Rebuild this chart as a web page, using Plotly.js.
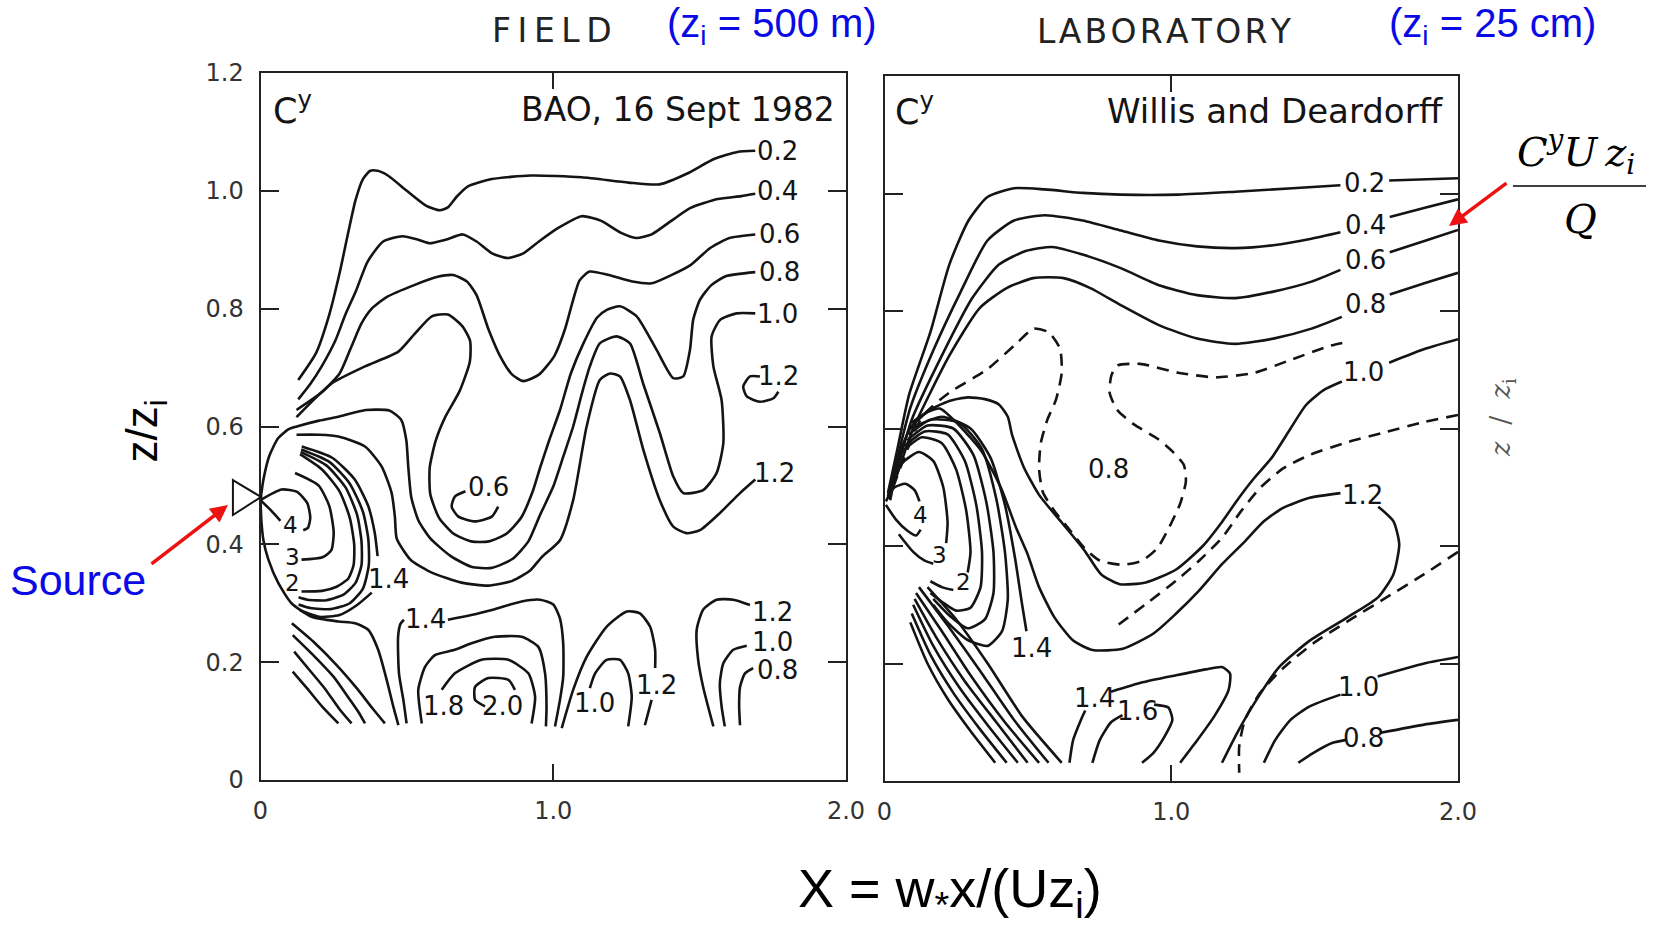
<!DOCTYPE html>
<html><head><meta charset="utf-8">
<script src="https://cdn.plot.ly/plotly-3.0.1.min.js"></script>
<style>html,body{margin:0;padding:0;background:#fff}#chart{width:1659px;height:931px}</style>
</head><body><div id="chart"></div>
<script>
// ---------- FIELD panel (BAO, 16 Sept 1982): contour polylines [X, z/zi] ----------
const fieldC02 = [[0.129,0.679],[0.19,0.725],[0.235,0.79],[0.27,0.86],[0.3,0.93],[0.325,0.985],[0.35,1.02],[0.375,1.034],[0.4,1.034],[0.435,1.026],[0.5,1.0],[0.565,0.975],[0.612,0.967],[0.64,0.972],[0.67,0.99],[0.71,1.008],[0.79,1.02],[0.924,1.026],[1.097,1.023],[1.257,1.014],[1.363,1.011],[1.456,1.029],[1.549,1.054],[1.629,1.066],[1.69,1.068]];
const fieldC04 = [[0.129,0.646],[0.17,0.672],[0.209,0.702],[0.255,0.745],[0.29,0.79],[0.326,0.83],[0.366,0.88],[0.419,0.914],[0.485,0.923],[0.539,0.917],[0.578,0.911],[0.632,0.917],[0.691,0.926],[0.738,0.914],[0.791,0.894],[0.844,0.886],[0.898,0.894],[0.951,0.914],[1.017,0.937],[1.097,0.957],[1.164,0.949],[1.23,0.929],[1.283,0.92],[1.336,0.926],[1.403,0.949],[1.469,0.971],[1.562,0.986],[1.642,0.991],[1.69,0.995]];
const fieldC06 = [[0.123,0.628],[0.209,0.658],[0.27,0.69],[0.31,0.735],[0.345,0.775],[0.38,0.8],[0.432,0.82],[0.525,0.84],[0.605,0.854],[0.658,0.857],[0.705,0.846],[0.738,0.823],[0.778,0.766],[0.818,0.72],[0.858,0.689],[0.898,0.677],[0.951,0.688],[1.004,0.72],[1.04,0.765],[1.068,0.815],[1.09,0.848],[1.124,0.863],[1.19,0.857],[1.27,0.846],[1.336,0.843],[1.403,0.857],[1.469,0.874],[1.536,0.903],[1.602,0.92],[1.69,0.926]];
const fieldC08 = [[0.123,0.616],[0.243,0.673],[0.357,0.702],[0.471,0.727],[0.528,0.758],[0.585,0.787],[0.64,0.79],[0.69,0.77],[0.716,0.745],[0.715,0.71],[0.68,0.66],[0.63,0.615],[0.598,0.575],[0.578,0.53],[0.58,0.485],[0.61,0.445],[0.66,0.418],[0.72,0.405],[0.78,0.405],[0.84,0.418],[0.89,0.445],[0.93,0.49],[0.955,0.53],[0.985,0.575],[1.023,0.628],[1.06,0.69],[1.103,0.741],[1.15,0.785],[1.183,0.798],[1.228,0.804],[1.285,0.787],[1.353,0.73],[1.41,0.682],[1.444,0.685],[1.467,0.73],[1.478,0.781],[1.501,0.815],[1.54,0.84],[1.589,0.855],[1.69,0.862]];
const fieldC10a = [[0.471,0.093],[0.454,0.124],[0.431,0.17],[0.402,0.221],[0.368,0.255],[0.323,0.266],[0.266,0.269],[0.175,0.277],[0.106,0.3],[0.061,0.334],[0.027,0.374],[0.01,0.407],[0.003,0.44],[0.0,0.475]];
const fieldC10b = [[0.0,0.475],[0.01,0.51],[0.03,0.55],[0.06,0.58],[0.095,0.595],[0.124,0.6],[0.2,0.61],[0.27,0.617],[0.36,0.628],[0.44,0.627],[0.48,0.612],[0.498,0.577],[0.505,0.53],[0.515,0.48],[0.54,0.44],[0.58,0.41],[0.65,0.38],[0.72,0.362],[0.79,0.36],[0.86,0.375],[0.915,0.405],[0.955,0.45],[1.0,0.498],[1.035,0.55],[1.068,0.6],[1.1,0.66],[1.125,0.702],[1.159,0.741],[1.216,0.753],[1.262,0.741],[1.307,0.673],[1.364,0.589],[1.41,0.515],[1.444,0.487],[1.512,0.492],[1.558,0.521],[1.581,0.572],[1.575,0.645],[1.547,0.702],[1.541,0.753],[1.57,0.781],[1.626,0.792],[1.69,0.792]];
const fieldC12 = [[0.123,0.586],[0.2,0.586],[0.266,0.583],[0.357,0.566],[0.414,0.532],[0.448,0.487],[0.459,0.447],[0.465,0.41],[0.488,0.39],[0.516,0.372],[0.585,0.352],[0.687,0.335],[0.778,0.33],[0.86,0.338],[0.92,0.355],[0.96,0.378],[1.023,0.407],[1.068,0.475],[1.114,0.6],[1.159,0.679],[1.194,0.69],[1.228,0.685],[1.262,0.645],[1.308,0.56],[1.364,0.475],[1.41,0.43],[1.455,0.419],[1.501,0.424],[1.569,0.453],[1.638,0.487],[1.69,0.51]];
const fieldLoop06 = [[0.7,0.49],[0.664,0.481],[0.653,0.464],[0.676,0.447],[0.733,0.439],[0.79,0.447],[0.812,0.464]];
const fieldLoop12 = [[1.706,0.685],[1.672,0.685],[1.649,0.668],[1.661,0.651],[1.706,0.642],[1.752,0.648],[1.769,0.659]];
const fieldLoop4 = [[0.0,0.475],[0.072,0.493],[0.125,0.489],[0.16,0.47],[0.17,0.445],[0.162,0.428],[0.146,0.424]];
const fieldX4 = [[0.0,0.475],[0.035,0.458],[0.068,0.44]];
const fieldLoop3 = [[0.118,0.521],[0.198,0.5],[0.235,0.465],[0.25,0.42],[0.242,0.39],[0.212,0.378],[0.14,0.374]];
const fieldLoop2 = [[0.135,0.553],[0.21,0.527],[0.27,0.49],[0.305,0.445],[0.32,0.4],[0.318,0.365],[0.3,0.342],[0.26,0.328],[0.21,0.321],[0.14,0.32]];
const fieldArc18 = [[0.137,0.557],[0.225,0.534],[0.29,0.497],[0.33,0.45],[0.345,0.405],[0.345,0.365],[0.325,0.335],[0.285,0.315],[0.225,0.305],[0.16,0.306],[0.13,0.31]];
const fieldArc16 = [[0.139,0.561],[0.235,0.54],[0.305,0.503],[0.35,0.455],[0.368,0.41],[0.37,0.365],[0.35,0.325],[0.305,0.3],[0.24,0.29],[0.17,0.292],[0.13,0.298]];
const fieldArc14 = [[0.141,0.566],[0.245,0.547],[0.322,0.51],[0.368,0.465],[0.39,0.42],[0.4,0.38],null,[0.38,0.318],[0.33,0.297],[0.27,0.28],[0.2,0.277],[0.135,0.288]];
const fieldFan1 = [[0.107,0.266],[0.18,0.235],[0.26,0.195],[0.33,0.155],[0.385,0.12],[0.425,0.096]];
const fieldFan2 = [[0.11,0.246],[0.18,0.212],[0.25,0.175],[0.3,0.14],[0.335,0.115],[0.357,0.096]];
const fieldFan3 = [[0.115,0.218],[0.17,0.185],[0.22,0.155],[0.27,0.12],[0.311,0.096]];
const fieldFan4 = [[0.11,0.184],[0.16,0.155],[0.21,0.125],[0.266,0.096]];
const fieldC14 = [[0.499,0.096],[0.488,0.136],[0.473,0.181],[0.47,0.243],[0.478,0.265],[0.49,0.272],null,[0.64,0.272],[0.72,0.28],[0.8,0.29],[0.892,0.303],[0.955,0.306],[1.0,0.298],[1.023,0.274],[1.034,0.232],[1.034,0.175],[1.023,0.136],[1.006,0.091]];
const fieldC16 = [[0.551,0.096],[0.539,0.153],[0.562,0.192],[0.596,0.212],[0.664,0.221],[0.721,0.232],[0.8,0.243],[0.892,0.243],[0.949,0.226],[0.972,0.181],[0.977,0.124],[0.975,0.091]];
const fieldC18 = [[0.619,0.153],[0.664,0.181],[0.755,0.204],[0.846,0.204],[0.915,0.181],[0.938,0.141],[0.926,0.096]];
const fieldC20 = [[0.767,0.125],[0.733,0.136],[0.733,0.158],[0.778,0.173],[0.847,0.17],[0.869,0.153]];
const fieldHump12 = [[1.029,0.088],[1.068,0.153],[1.114,0.209],[1.182,0.26],[1.251,0.286],[1.296,0.283],[1.331,0.26],[1.348,0.221],[1.348,0.19],null,[1.336,0.136],[1.313,0.093]];
const fieldLoop10 = [[1.125,0.156],[1.143,0.181],[1.182,0.204],[1.228,0.204],[1.256,0.181],[1.268,0.141],[1.256,0.091]];
const fieldR12 = [[1.672,0.297],[1.615,0.306],[1.558,0.306],[1.512,0.289],[1.49,0.255],[1.495,0.204],[1.512,0.158],[1.547,0.091]];
const fieldR10 = [[1.661,0.228],[1.615,0.221],[1.581,0.198],[1.569,0.164],[1.575,0.125],[1.586,0.091]];
const fieldR08 = [[1.683,0.19],[1.655,0.181],[1.638,0.158],[1.635,0.125],[1.638,0.093]];
const fieldLabels = [['0.2',1.766,1.067],['0.4',1.766,0.999],['0.6',1.773,0.927],['0.8',1.773,0.863],['1.0',1.766,0.791],['1.2',1.77,0.685],['1.2',1.755,0.521],['0.6',0.78,0.498],['4',0.104,0.432],['3',0.108,0.378],['2',0.108,0.334],['1.4',0.436,0.342],['1.4',0.563,0.273],['1.2',1.748,0.286],['1.0',1.748,0.234],['0.8',1.766,0.187],['1.8',0.626,0.126],['2.0',0.825,0.126],['1.0',1.14,0.13],['1.2',1.352,0.161]];

// ---------- LABORATORY panel (Willis and Deardorff) ----------
const labR02 = [[0.012,0.49],[0.045,0.565],[0.086,0.658],[0.16,0.764],[0.226,0.879],[0.293,0.954],[0.359,0.994],[0.452,1.009],[0.559,1.007],[0.691,1.001],[0.824,0.998],[1.024,0.998],[1.223,1.003],[1.423,1.009],[1.59,1.014],null,[1.76,1.022],[2.0,1.026]];
const labR04 = [[0.012,0.485],[0.05,0.56],[0.09,0.635],[0.173,0.736],[0.266,0.833],[0.359,0.92],[0.452,0.954],[0.559,0.963],[0.691,0.954],[0.824,0.937],[0.957,0.92],[1.09,0.91],[1.223,0.907],[1.356,0.912],[1.489,0.923],[1.59,0.934],null,[1.762,0.96],[1.888,0.976],[2.0,0.99]];
const labR06 = [[0.012,0.482],[0.055,0.55],[0.095,0.615],[0.2,0.724],[0.306,0.822],[0.399,0.879],[0.492,0.902],[0.585,0.909],[0.691,0.896],[0.824,0.873],[0.957,0.844],[1.09,0.827],[1.223,0.822],[1.356,0.833],[1.489,0.85],[1.59,0.87],null,[1.762,0.9],[1.888,0.92],[2.0,0.938]];
const labR08 = [[0.015,0.48],[0.06,0.545],[0.1,0.6],[0.226,0.724],[0.332,0.805],[0.426,0.839],[0.519,0.856],[0.625,0.856],[0.718,0.839],[0.824,0.81],[0.957,0.776],[1.09,0.753],[1.223,0.744],[1.356,0.753],[1.489,0.77],[1.595,0.79],null,[1.762,0.828],[1.888,0.848],[2.0,0.865]];
const labR10 = [[0.02,0.478],[0.055,0.56],[0.093,0.603],[0.16,0.632],[0.226,0.647],[0.29,0.653],[0.35,0.65],[0.399,0.641],[0.43,0.62],[0.445,0.589],[0.485,0.535],[0.539,0.487],[0.618,0.44],[0.698,0.392],[0.755,0.352],[0.82,0.335],[0.911,0.338],[1.017,0.36],[1.11,0.4],[1.177,0.441],[1.23,0.478],[1.283,0.512],[1.35,0.55],[1.416,0.6],[1.47,0.64],[1.53,0.665],[1.595,0.68],null,[1.76,0.712],[1.888,0.736],[2.0,0.752]];
const labD09 = [[0.03,0.5],[0.133,0.621],[0.226,0.661],[0.359,0.701],[0.465,0.747],[0.519,0.77],[0.572,0.764],[0.612,0.736],[0.618,0.695],[0.598,0.649],[0.568,0.615],[0.545,0.575],[0.539,0.532],[0.552,0.492],[0.592,0.46],[0.645,0.428],[0.698,0.396],[0.751,0.375],[0.831,0.368],[0.898,0.375],[0.951,0.396],[0.991,0.43],[1.031,0.472],[1.051,0.51],[1.044,0.538],[1.004,0.561],[0.951,0.583],[0.87,0.607],[0.811,0.632],[0.785,0.661],[0.791,0.69],[0.811,0.707],[0.891,0.71],[1.024,0.695],[1.157,0.687],[1.29,0.695],[1.423,0.718],[1.556,0.741],[1.609,0.747]];
const labD11 = [[2.0,0.623],[1.882,0.611],[1.749,0.594],[1.616,0.577],[1.483,0.555],[1.39,0.532],[1.31,0.499],[1.243,0.459],[1.177,0.414],[1.097,0.375],[1.017,0.341],[0.911,0.301],[0.805,0.262]];
const labD11b = [[2.0,0.39],[1.882,0.352],[1.749,0.312],[1.616,0.272],[1.497,0.235],[1.39,0.192],[1.31,0.15],[1.257,0.104],[1.237,0.059],[1.237,0.014]];
const labR12 = [[0.095,0.61],[0.15,0.628],[0.193,0.634],[0.259,0.606],[0.339,0.561],[0.406,0.499],[0.459,0.431],[0.499,0.386],[0.539,0.33],[0.592,0.279],[0.658,0.239],[0.725,0.223],[0.831,0.225],[0.938,0.251],[1.017,0.285],[1.097,0.324],[1.177,0.369],[1.257,0.408],[1.323,0.442],[1.39,0.465],[1.483,0.482],[1.59,0.49],null,[1.722,0.467],[1.775,0.442],[1.795,0.403],[1.775,0.352],[1.722,0.313],[1.616,0.279],[1.483,0.239],[1.376,0.194],[1.297,0.138],[1.23,0.082],[1.177,0.031]];
const labR14 = [[0.645,0.031],[0.658,0.07],[0.685,0.104],[0.7,0.12],null,[0.79,0.152],[0.9,0.168],[1.017,0.18],[1.12,0.19],[1.177,0.194],[1.205,0.183],[1.2,0.155],[1.15,0.11],[1.084,0.065],[1.031,0.031]];
const labR16 = [[0.725,0.031],[0.751,0.07],[0.79,0.1],[0.83,0.112],null,[0.94,0.13],[0.99,0.125],[1.004,0.104],[0.977,0.076],[0.938,0.048],[0.898,0.031]];
const labR10low = [[1.323,0.031],[1.363,0.07],[1.416,0.104],[1.483,0.127],[1.59,0.147],null,[1.72,0.178],[1.882,0.2],[2.0,0.211]];
const labR08low = [[1.443,0.031],[1.496,0.048],[1.563,0.065],[1.61,0.07],null,[1.73,0.082],[1.882,0.096],[2.0,0.104]];
const labLoop4 = [[0.005,0.476],[0.033,0.499],[0.073,0.506],[0.105,0.495],[0.122,0.476],null,[0.126,0.428],[0.11,0.418],[0.08,0.426],[0.04,0.445],[0.005,0.47]];
const labLoop3 = [[0.02,0.49],[0.06,0.54],[0.12,0.56],[0.17,0.545],[0.205,0.5],[0.22,0.44],[0.215,0.405],null,[0.17,0.37],[0.14,0.375],[0.1,0.39],[0.05,0.42]];
const labLoop2 = [[0.06,0.56],[0.13,0.585],[0.2,0.575],[0.25,0.53],[0.285,0.46],[0.3,0.39],[0.29,0.355],null,[0.24,0.325],[0.2,0.33],[0.16,0.34]];
const labArc1 = [[0.07,0.57],[0.14,0.595],[0.22,0.59],[0.28,0.545],[0.32,0.47],[0.34,0.39],[0.335,0.33],[0.3,0.295],[0.25,0.29],[0.2,0.305],[0.16,0.32]];
const labArc2 = [[0.08,0.58],[0.15,0.605],[0.24,0.6],[0.31,0.555],[0.355,0.475],[0.38,0.39],[0.38,0.32],[0.35,0.275],[0.29,0.26],[0.23,0.28],[0.17,0.31]];
const labArc3 = [[0.085,0.59],[0.16,0.615],[0.26,0.61],[0.34,0.565],[0.39,0.48],[0.42,0.39],[0.43,0.31],[0.41,0.255],[0.36,0.23],[0.29,0.24],[0.22,0.27],[0.17,0.3]];
const labArc14 = [[0.09,0.6],[0.2,0.62],[0.3,0.6],[0.37,0.55],[0.42,0.47],[0.455,0.38],[0.48,0.3],[0.495,0.255]];
const labFan1 = [[0.09,0.27],[0.15,0.2],[0.22,0.14],[0.3,0.085],[0.386,0.031]];
const labFan2 = [[0.095,0.285],[0.16,0.215],[0.24,0.15],[0.33,0.09],[0.426,0.031]];
const labFan3 = [[0.1,0.3],[0.17,0.23],[0.26,0.16],[0.36,0.095],[0.465,0.031]];
const labFan4 = [[0.105,0.31],[0.18,0.245],[0.28,0.17],[0.39,0.1],[0.499,0.031]];
const labFan5 = [[0.11,0.32],[0.2,0.255],[0.3,0.18],[0.42,0.1],[0.539,0.031]];
const labFan6 = [[0.12,0.33],[0.22,0.265],[0.33,0.19],[0.45,0.105],[0.572,0.031]];
const labFan7 = [[0.15,0.33],[0.25,0.275],[0.36,0.2],[0.48,0.11],[0.618,0.031]];
const labLabels = [['0.2',1.673,1.018],['0.4',1.676,0.947],['0.6',1.676,0.886],['0.8',1.676,0.812],['1.0',1.672,0.696],['0.8',0.782,0.531],['1.2',1.668,0.487],['4',0.125,0.452],['3',0.192,0.384],['2',0.274,0.339],['1.4',0.512,0.227],['1.4',0.734,0.141],['1.6',0.882,0.119],['1.0',1.652,0.16],['0.8',1.669,0.074]];

// axis tick values / labels
const xTickVals = [0, 1, 2];
const xTickText = ['0', '1.0', '2.0'];
const yTickVals = [0, 0.2, 0.4, 0.6, 0.8, 1.0, 1.2];
const yTickText = ['0', '0.2', '0.4', '0.6', '0.8', '1.0', '1.2'];

// ---------- build ----------
const INK = '#141414';
function toXY(pts){const x=[],y=[];pts.forEach(p=>{if(p===null){x.push(null);y.push(null);}else{x.push(p[0]);y.push(p[1]);}});return {x,y};}
function contour(pts, panel, dashed){
  const d = toXY(pts);
  return {type:'scatter', mode:'lines', x:d.x, y:d.y,
    xaxis: panel==='F'?'x':'x2', yaxis: panel==='F'?'y':'y2',
    line:{color:INK, width:2.6, shape:'spline', smoothing:0.6, dash: dashed?'12px,8px':'solid'},
    connectgaps:false, hoverinfo:'skip', showlegend:false};
}
const fieldSolid = [fieldC02,fieldC04,fieldC06,fieldC08,fieldC10a,fieldC10b,fieldC12,fieldLoop06,fieldLoop12,fieldLoop4,fieldX4,fieldLoop3,fieldLoop2,fieldArc18,fieldArc16,fieldArc14,fieldFan1,fieldFan2,fieldFan3,fieldFan4,fieldC14,fieldC16,fieldC18,fieldC20,fieldHump12,fieldLoop10,fieldR12,fieldR10,fieldR08];
const labSolid = [labR02,labR04,labR06,labR08,labR10,labR12,labR14,labR16,labR10low,labR08low,labLoop4,labLoop3,labLoop2,labArc1,labArc2,labArc3,labArc14,labFan1,labFan2,labFan3,labFan4,labFan5,labFan6,labFan7];
const labDashed = [labD09,labD11,labD11b];

const traces = [];
fieldSolid.forEach(c=>traces.push(contour(c,'F',false)));
labSolid.forEach(c=>traces.push(contour(c,'L',false)));
labDashed.forEach(c=>traces.push(contour(c,'L',true)));

function ann(o){return Object.assign({showarrow:false, xanchor:'center', yanchor:'middle', borderpad:0}, o);}
const labelFont = {family:'DejaVu Sans, sans-serif', size:26, color:INK};
const digitFont = {family:'DejaVu Sans, sans-serif', size:23, color:INK};
const annotations = [];
fieldLabels.forEach(l=>annotations.push(ann({xref:'x',yref:'y',x:l[1],y:l[2],text:l[0],font:l[0].length===1?digitFont:labelFont})));
labLabels.forEach(l=>annotations.push(ann({xref:'x2',yref:'y2',x:l[1],y:l[2],text:l[0],font:l[0].length===1?digitFont:labelFont})));

const hdrFont = {family:'DejaVu Sans, sans-serif', size:33, color:INK};
annotations.push(ann({xref:'x',yref:'y',x:0.11,y:1.14,text:'C<sup>y</sup>',font:{family:'DejaVu Sans, sans-serif',size:35,color:INK}}));
annotations.push(ann({xref:'x',yref:'y',x:1.965,y:1.138,xanchor:'right',text:'BAO, 16 Sept 1982',font:hdrFont}));
annotations.push(ann({xref:'x2',yref:'y2',x:0.105,y:1.143,text:'C<sup>y</sup>',font:{family:'DejaVu Sans, sans-serif',size:35,color:INK}}));
annotations.push(ann({xref:'x2',yref:'y2',x:1.955,y:1.14,xanchor:'right',text:'Willis and Deardorff',font:{family:'DejaVu Sans, sans-serif',size:34,color:INK}}));

const capFont = {family:'DejaVu Sans, sans-serif', size:33, color:'#222'};
const blueFont = {family:'Liberation Sans Narrow, Liberation Sans, Arial, sans-serif', size:40, color:'#0a0ae6'};
annotations.push(ann({xref:'paper',yref:'paper',x:0.3326,y:0.967,text:'F\u2009I\u2009E\u2009L\u2009D',font:capFont}));
annotations.push(ann({xref:'paper',yref:'paper',x:0.4655,y:0.972,text:'(z<sub>i</sub> = 500 m)',font:blueFont}));
annotations.push(ann({xref:'paper',yref:'paper',x:0.7022,y:0.966,text:'L\u200aA\u200aB\u200aO\u200aR\u200aA\u200aT\u200aO\u200aR\u200aY',font:capFont}));
annotations.push(ann({xref:'paper',yref:'paper',x:0.8995,y:0.972,text:'(z<sub>i</sub> = 25 cm)',font:blueFont}));

annotations.push(ann({xref:'paper',yref:'paper',x:0.0874,y:0.5375,text:'z/z<sub>i</sub>',textangle:-90,font:{family:'Liberation Sans, Arial, sans-serif',size:44,color:'#000'}}));
annotations.push(ann({xref:'paper',yref:'paper',x:0.5724,y:0.042,text:'X = w<sub>*</sub>x/(Uz<sub>i</sub>)',font:{family:'Liberation Sans, Arial, sans-serif',size:54,color:'#000'}}));
annotations.push(ann({xref:'paper',yref:'paper',x:0.0469,y:0.3772,text:'Source',font:{family:'Liberation Sans, Arial, sans-serif',size:43,color:'#0a0ae6'}}));
annotations.push({xref:'paper',yref:'paper',x:228/1659,y:1-505/931,ax:-78,ay:60,text:'',showarrow:true,arrowhead:2,arrowsize:1,arrowwidth:3.5,arrowcolor:'#ee1111'});
annotations.push({xref:'paper',yref:'paper',x:1449/1659,y:1-226/931,ax:59,ay:-44,text:'',showarrow:true,arrowhead:2,arrowsize:1,arrowwidth:3.5,arrowcolor:'#ee1111'});
const serifFont = {family:'DejaVu Serif, Liberation Serif, serif', size:40, color:'#000'};
annotations.push(ann({xref:'paper',yref:'paper',x:0.95,y:0.8367,text:'<i>C<sup>y</sup>U\u2009z<sub>i</sub></i>',font:serifFont}));
annotations.push(ann({xref:'paper',yref:'paper',x:0.9524,y:0.7648,text:'<i>Q</i>',font:serifFont}));
annotations.push(ann({xref:'paper',yref:'paper',x:0.9054,y:0.551,text:'<i>z</i>  /  <i>z</i><sub>i</sub>',textangle:-90,font:{family:'DejaVu Serif, serif',size:27,color:'#555'}}));

const shapes = [
  {type:'line',xref:'paper',yref:'paper',x0:1513/1659,x1:1646/1659,y0:1-186/931,y1:1-186/931,line:{color:'#000',width:1.6}},
  // source symbol (open triangle pointing at the source)
  {type:'path',xref:'paper',yref:'paper',path:'M 0.1404 0.4844 L 0.1573 0.4662 L 0.1404 0.4468 Z',line:{color:INK,width:2},fillcolor:'rgba(0,0,0,0)'}
];

function xAx(domain){return {domain, range:[0,2], showline:true, mirror:'ticks', linecolor:'#222', linewidth:2, ticks:'inside', ticklen:16, tickwidth:2, tickcolor:'#222', tickvals:xTickVals, ticktext:xTickText, tickfont:{family:'DejaVu Sans, sans-serif',size:24,color:'#333'}, ticklabelstandoff:8, showgrid:false, zeroline:false, fixedrange:true};}
function yAx(domain, labels){return {domain, range:[0,1.2], showline:true, mirror:'ticks', linecolor:'#222', linewidth:2, ticks:'inside', ticklen:18, tickwidth:2, tickcolor:'#222', tickvals:yTickVals, ticktext:yTickText, showticklabels:labels, tickfont:{family:'DejaVu Sans, sans-serif',size:24,color:'#333'}, ticklabelstandoff:10, showgrid:false, zeroline:false, fixedrange:true};}

const layout = {width:1659, height:931, margin:{l:0,r:0,t:0,b:0}, paper_bgcolor:'#fff', plot_bgcolor:'#fff', showlegend:false,
  xaxis: xAx([260.5/1659, 846/1659]), yaxis: yAx([(931-780)/931, (931-73)/931], true),
  xaxis2: Object.assign(xAx([884.5/1659, 1458/1659]), {anchor:'y2'}), yaxis2: Object.assign(yAx([(931-781)/931, (931-76)/931], false), {anchor:'x2'}),
  annotations, shapes};
layout.xaxis.anchor = 'y'; layout.yaxis.anchor = 'x';
Plotly.newPlot('chart', traces, layout, {staticPlot:true, displayModeBar:false});
</script></body></html>
